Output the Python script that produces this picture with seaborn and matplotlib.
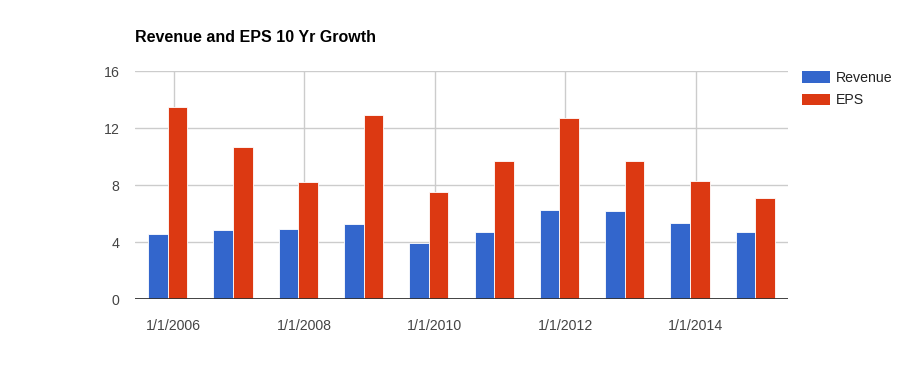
import matplotlib
matplotlib.use("Agg")
import matplotlib.pyplot as plt
import seaborn as sns
import pandas as pd
import numpy as np
from matplotlib.patches import Patch

years = ["2006", "2007", "2008", "2009", "2010", "2011", "2012", "2013", "2014", "2015"]
revenue = [4.58, 4.87, 4.94, 5.29, 3.95, 4.73, 6.27, 6.20, 5.36, 4.73]
eps = [13.50, 10.69, 8.23, 12.94, 7.53, 9.71, 12.73, 9.71, 8.30, 7.11]
tick_labels = ["1/1/2006", "1/1/2008", "1/1/2010", "1/1/2012", "1/1/2014"]
yticks = [0, 4, 8, 12, 16]

BLUE = "#3366CC"
RED = "#DC3912"

df = pd.DataFrame({
    "year": years * 2,
    "value": revenue + eps,
    "series": ["Revenue"] * len(years) + ["EPS"] * len(years),
})

sns.set_theme(style="white")
plt.rcParams["font.family"] = ["Liberation Sans", "DejaVu Sans"]

fig = plt.figure(figsize=(9.23, 3.71), dpi=100)
ax = fig.add_axes([135 / 923, 1 - 299.3 / 371, (788 - 135) / 923, (299.3 - 71.3) / 371])

sns.barplot(data=df, x="year", y="value", hue="series", order=years,
            hue_order=["Revenue", "EPS"], palette=[BLUE, RED], width=0.6,
            saturation=1, ax=ax, legend=False, zorder=3,
            edgecolor="white", linewidth=0.6)

ax.set_xlim(-0.5, 9.5)
ax.set_ylim(0, 16)
ax.set_yticks(yticks)
ax.set_yticklabels([str(v) for v in yticks])

for y in yticks[1:]:
    ax.axhline(y, color="#CCCCCC", lw=1, zorder=1)
grid_pos = [i + 0.09 for i in range(0, 10, 2)]
for x in grid_pos:
    ax.axvline(x, color="#CCCCCC", lw=1, zorder=1)
ax.axhline(0, color="#333333", lw=1.3, zorder=4)

ax.set_xticks(grid_pos)
ax.set_xticklabels(tick_labels)
ax.tick_params(axis="x", length=0, pad=14, labelsize=10.2, labelcolor="#444444")
ax.tick_params(axis="y", length=0, pad=11, labelsize=10.2, labelcolor="#444444")
ax.set_xlabel("")
ax.set_ylabel("")
for s in ax.spines.values():
    s.set_visible(False)

fig.text(135 / 923, 1 - 38 / 371, "Revenue and EPS 10 Yr Growth", fontsize=11.5,
         fontweight="bold", ha="left", va="center", color="#000000")

handles = [Patch(facecolor=BLUE, edgecolor="none", label="Revenue"),
           Patch(facecolor=RED, edgecolor="none", label="EPS")]
fig.legend(handles=handles, loc="upper left", bbox_to_anchor=(802 / 923, 1 - 71 / 371),
           frameon=False, borderpad=0, borderaxespad=0, fontsize=10.2,
           handlelength=1.96, handleheight=0.9, handletextpad=0.4,
           labelspacing=0.6, labelcolor="#222222")

fig.savefig("out.png", dpi=100, facecolor="white")
